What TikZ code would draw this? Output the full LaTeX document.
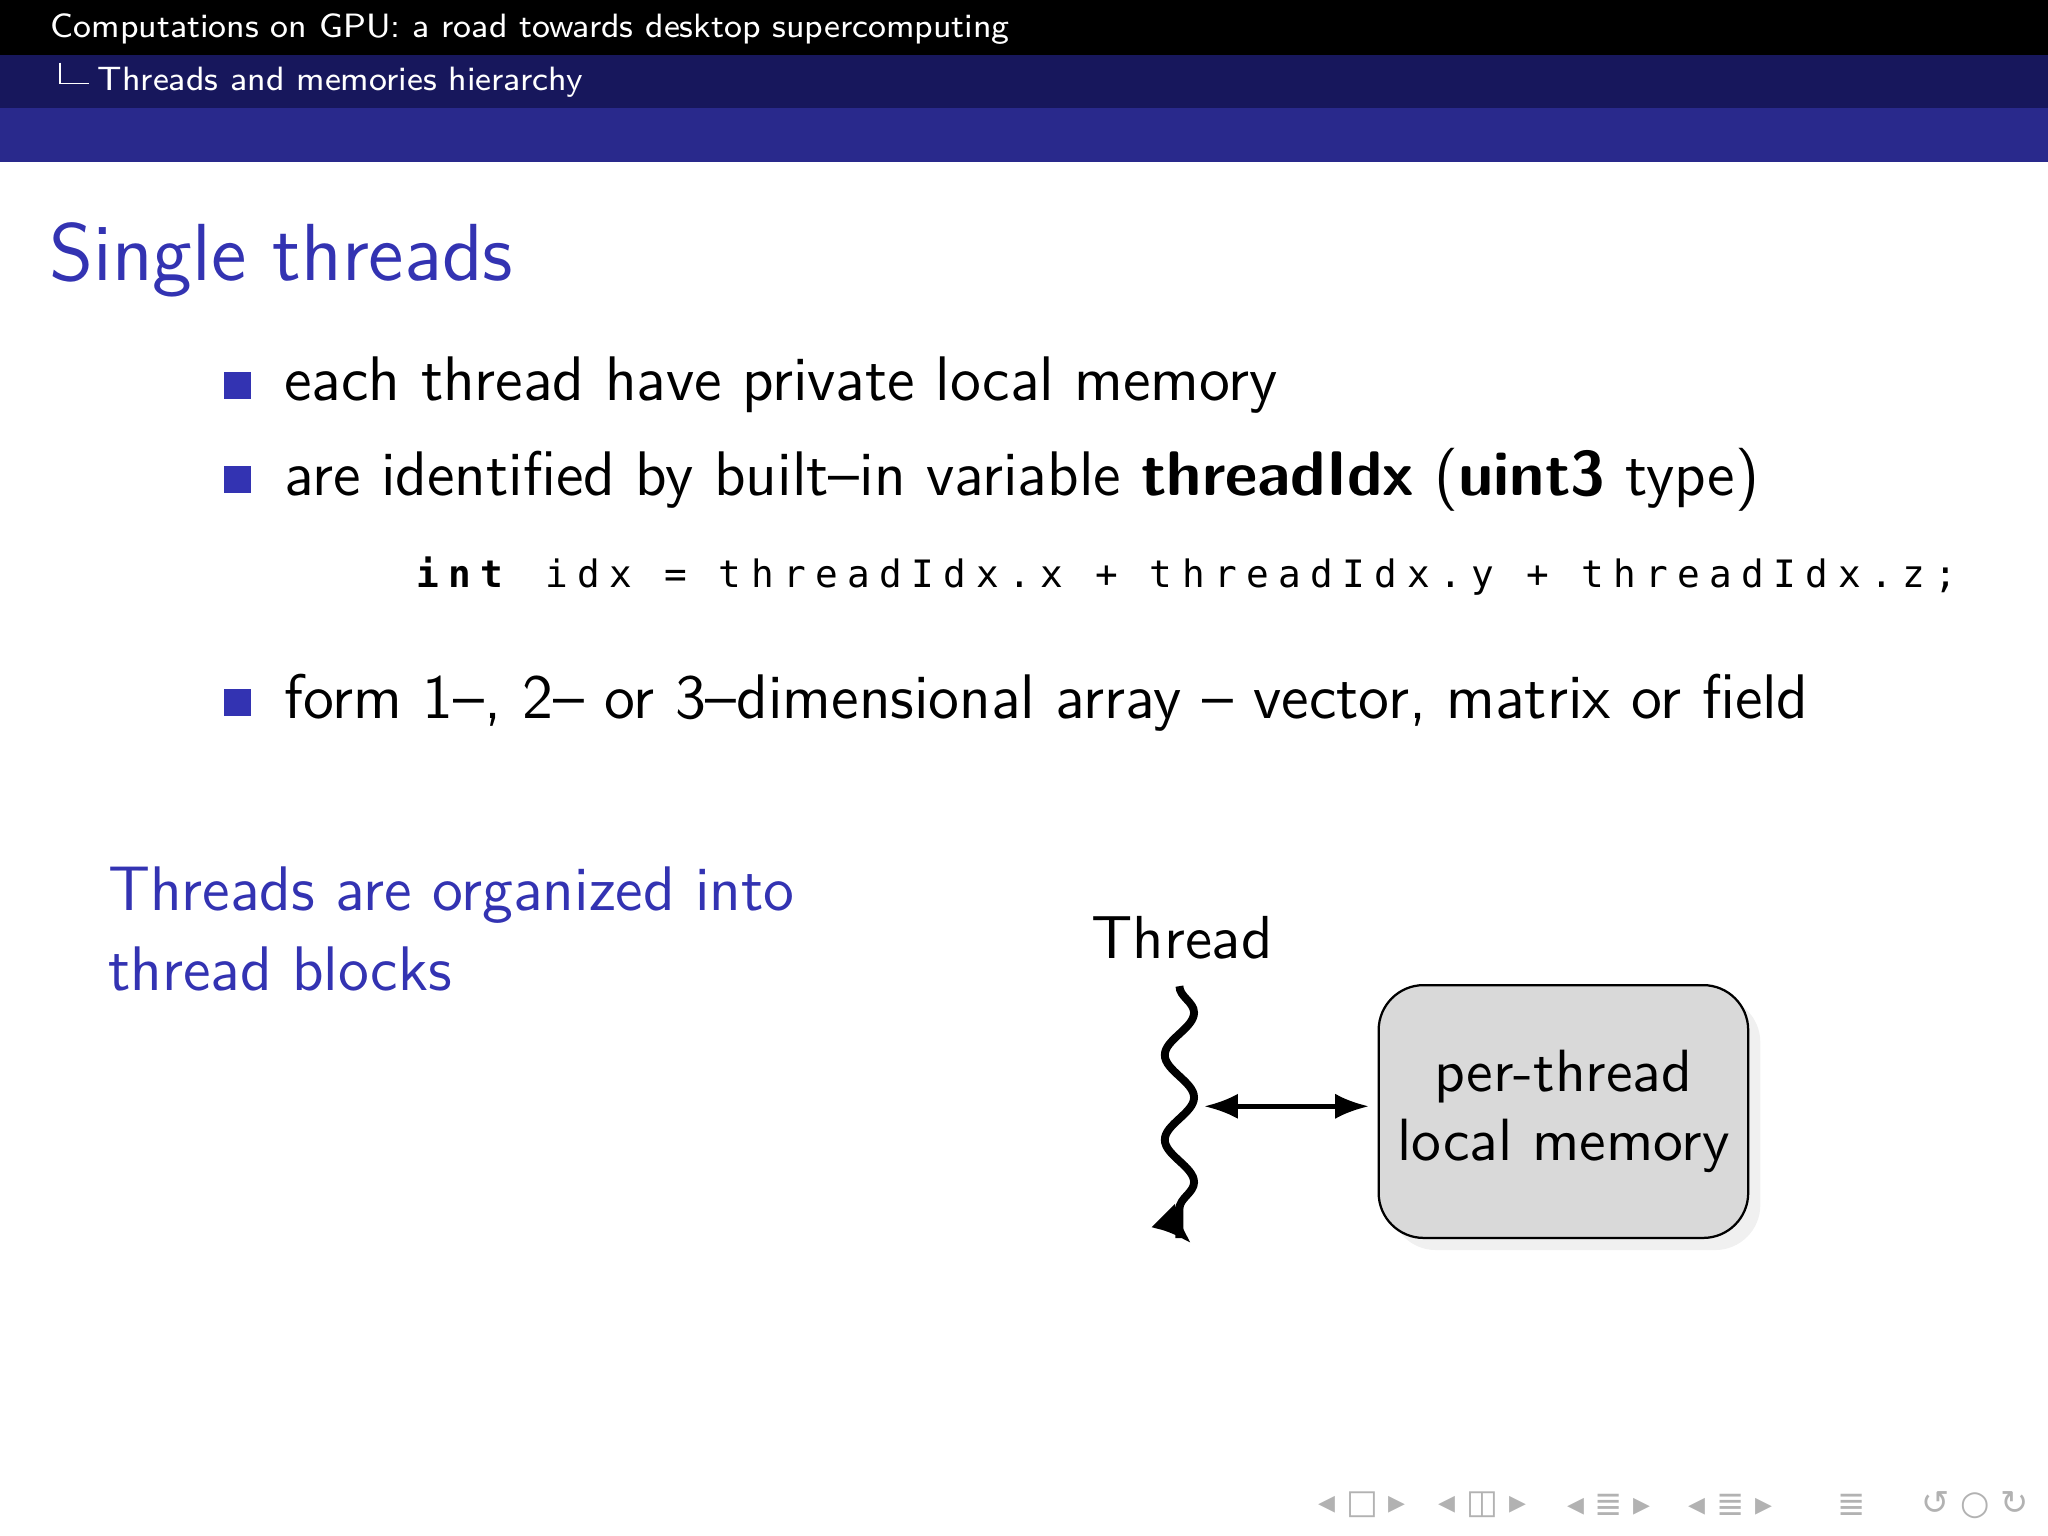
\documentclass[tikz,border=0pt]{standalone}
\usepackage{fontspec}
\newfontfamily\codefont[LetterSpace=25]{DejaVu Sans Mono}
\newfontfamily\symfont{DejaVu Sans}
\usetikzlibrary{decorations.pathmorphing,arrows.meta,shadows}
\definecolor{struct}{rgb}{0.2,0.2,0.7}
\definecolor{barA}{rgb}{0.09,0.09,0.36}
\definecolor{barB}{rgb}{0.16,0.16,0.55}
\tikzset{
  bul/.style={fill=struct,minimum size=0.17cm,inner sep=0},
  body/.style={anchor=west,inner sep=0,font=\sffamily\fontsize{11.2}{14}\selectfont},
  nav/.style={text=gray!60,font=\symfont\fontsize{6}{7}\selectfont,inner sep=0}
}
\begin{document}
\begin{tikzpicture}[x=0.008163cm,y=-0.008163cm]
\useasboundingbox (0,0) rectangle (1568,1176);
\fill[black] (0,0) rectangle (1568,42);
\fill[barA] (0,42) rectangle (1568,83);
\fill[barB] (0,83) rectangle (1568,124);
\node[anchor=west,inner sep=0,text=white,font=\sffamily\fontsize{6}{7}\selectfont] (h1) at (38,22) {Computations on GPU: a road towards desktop supercomputing};
\draw[white,line width=0.3pt] (46,48) |- (68,64);
\node[anchor=west,inner sep=0,text=white,font=\sffamily\fontsize{6}{7}\selectfont] (h2) at (74,63) {Threads and memories hierarchy};
\node[anchor=west,inner sep=0,text=struct,font=\sffamily\fontsize{14.4}{18}\selectfont] (title) at (37,199) {Single threads};
\node[bul] (b1) at (182,295) {};
\node[body] (t1) at (217,295) {each thread have private local memory};
\node[bul] (b2) at (182,367) {};
\node[body] (t2) at (217,367) {are identified by built--in variable \textbf{threadIdx} (\textbf{uint3} type)};
\node[anchor=west,inner sep=0] (code) at (318,441) {\resizebox{9.63cm}{!}{\codefont\fontsize{9}{10}\selectfont\textbf{int} idx = threadIdx.x + threadIdx.y + threadIdx.z;}};
\node[bul] (b3) at (182,538) {};
\node[body] (t3) at (217,538) {form 1--, 2-- or 3--dimensional array -- vector, matrix or field};
\node[body,text=struct,align=left,anchor=north west,font=\sffamily\fontsize{11.2}{14.2}\selectfont] (org) at (82,663) {Threads are organized into\\thread blocks};
\node[font=\sffamily\fontsize{10.8}{13}\selectfont,inner sep=0] (thl) at (905,718) {Thread};
\coordinate (ts) at (903,755);
\coordinate (te) at (903,948);
\draw[line width=1.4pt,decorate,decoration={snake,amplitude=2.6pt,segment length=0.53cm,post length=2pt}] (ts) -- (te);
\draw[-{Latex[length=7pt,width=6pt]},line width=1.4pt] (895,935) -- (912,952);
\node[draw,rounded corners=8pt,fill=gray!30,drop shadow={opacity=0.12},minimum width=2.3cm,minimum height=1.58cm,align=center,font=\sffamily\fontsize{10.6}{12.2}\selectfont] (mem) at (1197,851) {per-thread\\local memory};
\coordinate (al) at (922,847);
\coordinate (ar) at (1048,847);
\draw[{Latex[length=6pt]}-{Latex[length=6pt]},line width=0.8pt] (al) -- (ar);
\node[nav] (n1) at (1043,1152) {◂ □ ▸};
\node[nav] (n2) at (1135,1152) {◂ ◫ ▸};
\node[nav] (n3) at (1232,1152) {◂ ≣ ▸};
\node[nav] (n4) at (1325,1152) {◂ ≣ ▸};
\node[nav] (n5) at (1418,1152) {≣};
\node[nav] (n6) at (1512,1152) {↺ ○ ↻};
\end{tikzpicture}
\end{document}
